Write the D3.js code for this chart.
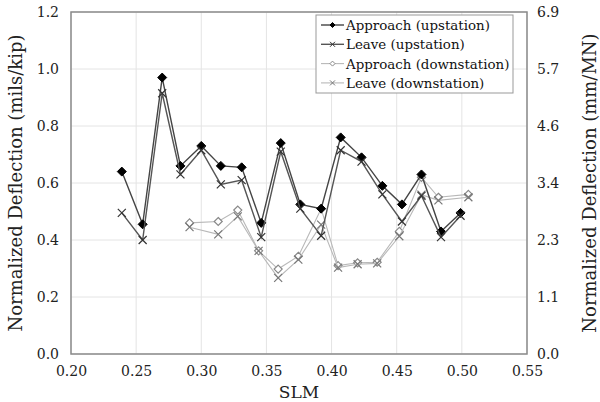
<!DOCTYPE html>
<html><head><meta charset="utf-8">
<script src="https://cdn.jsdelivr.net/npm/d3@7"></script>
<style>body{margin:0;background:#fff}svg{display:block}</style>
</head><body><svg id="c" width="600" height="402"></svg>
<script>
const upX = [0.239,0.255,0.270,0.284,0.300,0.315,0.331,0.346,0.361,0.376,0.392,0.407,0.423,0.439,0.454,0.469,0.484,0.499];
const approachUp = [0.64,0.455,0.97,0.66,0.73,0.66,0.655,0.46,0.74,0.525,0.51,0.76,0.69,0.59,0.525,0.63,0.43,0.495];
const leaveUp = [0.495,0.40,0.915,0.63,0.715,0.595,0.61,0.41,0.71,0.51,0.415,0.715,0.675,0.56,0.465,0.555,0.41,0.485];
const downX = [0.291,0.313,0.328,0.344,0.359,0.3745,0.392,0.405,0.420,0.435,0.452,0.469,0.482,0.505];
const approachDown = [0.46,0.465,0.505,0.362,0.298,0.343,0.51,0.31,0.32,0.322,0.43,0.62,0.55,0.56];
const leaveDown = [0.445,0.42,0.483,0.362,0.267,0.331,0.454,0.303,0.315,0.318,0.413,0.559,0.539,0.55];
const xTicks = [0.20,0.25,0.30,0.35,0.40,0.45,0.50,0.55];
const yTicks = [0,0.2,0.4,0.6,0.8,1.0,1.2];
const rightTickLabels = ["0.0","1.1","2.3","3.4","4.6","5.7","6.9"];
const seriesNames = ["Approach (upstation)","Leave (upstation)","Approach (downstation)","Leave (downstation)"];

const FF = "DejaVu Serif";
const svg = d3.select("#c").attr("font-family",FF);
const m = {l:71, r:73, t:12, b:48};
const W = 600, H = 402;
const x = d3.scaleLinear().domain([0.20,0.55]).range([m.l, W-m.r]);
const y = d3.scaleLinear().domain([0,1.2]).range([H-m.b, m.t]);

svg.append("g").selectAll("line").data(xTicks).join("line")
  .attr("x1",d=>x(d)).attr("x2",d=>x(d)).attr("y1",y(0)).attr("y2",y(1.2))
  .attr("stroke","#e4e4e4").attr("stroke-width",1);
svg.append("g").selectAll("line").data(yTicks).join("line")
  .attr("y1",d=>y(d)).attr("y2",d=>y(d)).attr("x1",x(0.2)).attr("x2",x(0.55))
  .attr("stroke","#e4e4e4").attr("stroke-width",1);

const ax = svg.append("g").attr("transform",`translate(0,${y(0)})`)
  .call(d3.axisBottom(x).tickValues(xTicks).tickFormat(d3.format(".2f")).tickSize(0).tickPadding(12));
const ayl = svg.append("g").attr("transform",`translate(${x(0.2)},0)`)
  .call(d3.axisLeft(y).tickValues(yTicks).tickFormat(d3.format(".1f")).tickSize(0).tickPadding(12));
const ayr = svg.append("g").attr("transform",`translate(${x(0.55)},0)`)
  .call(d3.axisRight(y).tickValues(yTicks).tickFormat((d,i)=>rightTickLabels[i]).tickSize(0).tickPadding(10));
[ax,ayl,ayr].forEach(g=>{g.attr("font-family",FF);g.select(".domain").remove();g.selectAll("text").attr("font-size",14).attr("fill","#222");});

svg.append("rect").attr("x",x(0.2)).attr("y",y(1.2)).attr("width",x(0.55)-x(0.2)).attr("height",y(0)-y(1.2))
  .attr("fill","none").attr("stroke","#8a8a8a").attr("stroke-width",1.5);

svg.append("text").attr("x",(x(0.2)+x(0.55))/2).attr("y",398).attr("text-anchor","middle").attr("font-size",17).attr("fill","#222").text("SLM");
svg.append("text").attr("transform",`translate(22,${(y(0)+y(1.2))/2}) rotate(-90)`).attr("text-anchor","middle").attr("font-size",18).attr("fill","#222").text("Normalized Deflection (mils/kip)");
svg.append("text").attr("transform",`translate(596,${(y(0)+y(1.2))/2}) rotate(-90)`).attr("text-anchor","middle").attr("font-size",18).attr("fill","#222").text("Normalized Deflection (mm/MN)");

const line = d3.line().x(d=>x(d[0])).y(d=>y(d[1]));
const zip = (a,b)=>a.map((v,i)=>[v,b[i]]);
const diamond = s => `M0,${-s}L${s},0L0,${s}L${-s},0Z`;
const cross = s => `M${-s},${-s}L${s},${s}M${-s},${s}L${s},${-s}`;

const styles = [
  {data:zip(upX,approachUp), line:"#444", lw:1.4, marker:"dia", fill:"#000", stroke:"#000"},
  {data:zip(upX,leaveUp), line:"#555", lw:1.4, marker:"x", fill:"none", stroke:"#333"},
  {data:zip(downX,approachDown), line:"#b8b8b8", lw:1.1, marker:"dia", fill:"#fff", stroke:"#888"},
  {data:zip(downX,leaveDown), line:"#b8b8b8", lw:1.1, marker:"x", fill:"none", stroke:"#777"}
];
[2,3,0,1].forEach(k=>{
  const s = styles[k];
  const g = svg.append("g");
  g.append("path").attr("d",line(s.data)).attr("fill","none").attr("stroke",s.line).attr("stroke-width",s.lw);
  g.selectAll("path.m").data(s.data).join("path").attr("class","m")
    .attr("transform",d=>`translate(${x(d[0])},${y(d[1])})`)
    .attr("d",s.marker==="dia"?diamond(k===0?4.5:4):cross(4))
    .attr("fill",s.fill).attr("stroke",s.stroke).attr("stroke-width",k===0?1:1.2);
});

const lg = svg.append("g");
lg.append("rect").attr("x",316).attr("y",15).attr("width",197).attr("height",78).attr("fill","#fff").attr("stroke","#999").attr("stroke-width",1);
seriesNames.forEach((n,i)=>{
  const s = styles[i];
  const yy = 25 + i*19.3;
  lg.append("line").attr("x1",321).attr("x2",344).attr("y1",yy).attr("y2",yy).attr("stroke",s.line).attr("stroke-width",s.lw);
  lg.append("path").attr("transform",`translate(332.5,${yy})`).attr("d",s.marker==="dia"?diamond(2.5):cross(2.5))
    .attr("fill",s.fill).attr("stroke",s.stroke).attr("stroke-width",1);
  lg.append("text").attr("x",346).attr("y",yy+5).attr("font-size",13.4).attr("fill","#111").text(n);
});
</script></body></html>
